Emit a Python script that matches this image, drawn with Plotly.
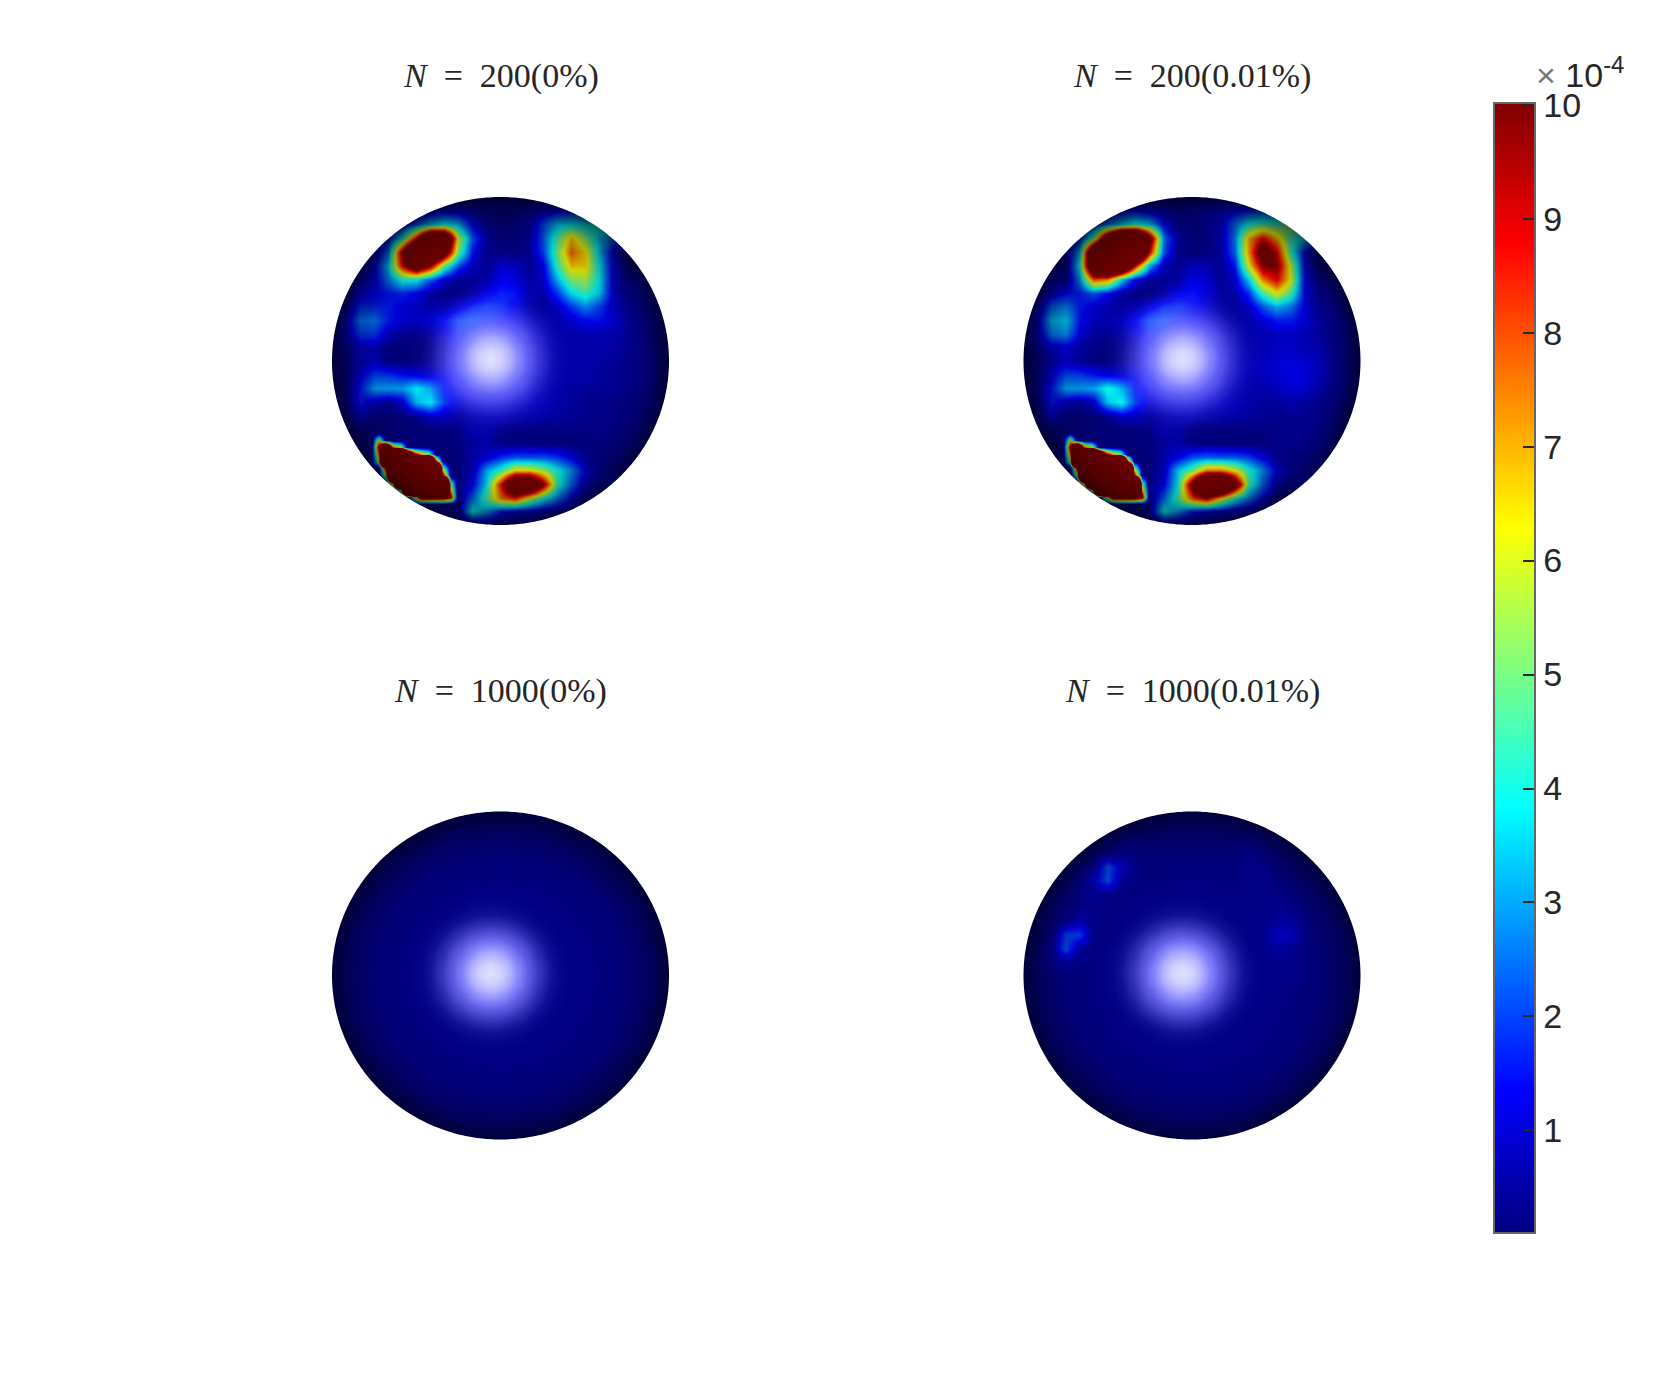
"""Four shaded spheres with a shared jet colorbar, drawn as masked heatmaps."""

import numpy as np
import plotly.graph_objects as go

FIG_W, FIG_H = 1661, 1384

titles = ["N = 200(0%)", "N = 200(0.01%)", "N = 1000(0%)", "N = 1000(0.01%)"]
tick_values = [1, 2, 3, 4, 5, 6, 7, 8, 9, 10]

# field values in units of 1e-4 on a regular grid over each sphere
grid_200_clean = [
    [.2] * 25,
    [.2, .2, .2, .2, .2, .2, .5, .9, 1.1, .9, .5, .2, .15, .2, .4, .9, 1.3, 1.6, 2.0, 1.8, 1.0, .3, .2, .2, .2],
    [.2, .2, .2, .3, .8, 1.2, 2.2, 3.4, 4, 3.2, 1.2, .4, .15, .2, .5, 2.0, 3.4, 3.8, 3.6, 4, 4.2, 1.0, .2, .2, .2],
    [.2, .2, .3, .5, 1.4, 4, 9, 16, 15, 6, 2.2, .6, .2, .2, .5, 2.2, 4.6, 6.8, 5.2, 3.4, 2.4, 1.4, .3, .2, .2],
    [.2, .2, .4, .7, 2.6, 10, 17, 17, 12, 5, 1.6, .4, .3, .3, .4, 2.0, 5, 7.8, 6.5, 3.4, 1.0, .3, .2, .2, .2],
    [.2, .2, .5, 1.0, 3.4, 9, 13, 10, 5, 2.2, .9, .4, 1.0, .9, .4, 1.2, 4.4, 6.8, 6.6, 3.8, 1.0, .2, .2, .3, .2],
    [.2, .3, .7, 1.1, 2.6, 4.2, 4, 2.4, 1.0, .4, .4, .6, 1.3, 1.2, .5, .9, 3.2, 5.2, 5.6, 3.8, 1.0, .4, .4, .3, .2],
    [.2, .3, 1.1, 1.3, 1.5, 1.7, 1.3, .5, .2, .2, .5, 1.2, 1.6, 1.5, .7, .6, 1.8, 3.6, 4.4, 3.4, 1.0, .5, .4, .3, .2],
    [.2, .5, 1.7, 1.7, 1.6, 1.2, .9, .6, .6, 1.0, 1.6, 1.9, 1.7, 1.2, .6, .4, .8, 1.9, 2.8, 2.0, 1.0, .6, .5, .3, .2],
    [.2, .9, 2.6, 2.6, 1.6, 1.1, .9, 1.0, 1.4, 2.2, 2.4, 1.9, 1.5, 1.1, .7, .6, .6, .9, 1.4, 1.5, 1.1, .7, .5, .3, .2],
    [.2, .8, 1.9, 1.9, .9, .4, .3, .5, 1.0, 1.7, 1.9, 1.7, 1.4, 1.1, .8, .7, .6, .6, .7, .8, .8, .6, .5, .3, .2],
    [.2, .5, .9, .8, .2, .15, .15, .2, .5, 1.2, 1.6, 1.5, 1.3, 1.1, .8, .6, .6, .6, .7, .7, .7, .6, .5, .3, .2],
    [.2, .3, .8, .9, .3, .15, .15, .3, .6, 1.1, 1.4, 1.4, 1.3, 1.1, .9, .7, .6, .6, .6, .6, .6, .5, .5, .3, .2],
    [.2, .3, 1.2, 2.0, 1.9, 1.5, 1.2, 1.1, 1.2, 1.4, 1.4, 1.3, 1.2, 1.0, .8, .7, .6, .6, .6, .6, .5, .5, .5, .3, .2],
    [.2, .4, 1.6, 3.0, 3.0, 3.0, 3.8, 3.0, 1.6, 1.2, 1.2, 1.1, 1.1, 1.0, .8, .7, .6, .5, .5, .5, .5, .5, .5, .3, .2],
    [.2, .4, 1.6, .9, .4, 1.0, 3.2, 3.8, 1.9, 1.0, .9, .9, .9, .8, .8, .7, .6, .5, .4, .4, .4, .4, .4, .3, .2],
    [.2, .3, .9, .2, .15, .15, .3, .9, .8, .5, .6, .7, .7, .6, .6, .6, .5, .4, .4, .4, .4, .4, .4, .3, .2],
    [.2, .2, .2, .15, .15, .15, .15, .15, .15, .3, .6, .6, .3, .2, .2, .2, .2, .3, .3, .4, .4, .4, .3, .2, .2],
    [.2, .2, .2, .2, .15, .15, .15, .15, .15, .2, .5, .6, .2, .15, .15, .15, .15, .2, .3, .4, .4, .4, .3, .2, .2],
    [.2, .2, .2, .2, .2, .2, .2, .2, .2, .2, .6, 1.0, 1.8, 2.2, 2.2, 2.2, 1.9, 1.2, .5, .4, .4, .3, .2, .2, .2],
    [.2, .2, .2, .2, .2, .2, .2, .2, .2, .2, .7, 3.0, 4.4, 6.5, 6.5, 5.5, 4.0, 2.8, 1.2, .5, .4, .3, .2, .2, .2],
    [.2, .2, .2, .2, .2, .2, .2, .2, .2, .5, 1.2, 3.6, 9, 15, 15, 10, 4.4, 2.4, .8, .5, 1.0, .3, .2, .2, .2],
    [.2, .2, .2, .2, .2, .2, .2, .2, .2, .5, 2.4, 4.6, 7.5, 8.5, 6, 4, 2.6, 1.2, .5, .4, .3, .2, .2, .2, .2],
    [.2, .2, .2, .2, .2, .2, .2, .2, .3, .5, 4, 3, 1.5, 1, 1, .8, .6, .4, .3, .2, .2, .2, .2, .2, .2],
    [.2] * 25,
]

grid_200_noisy = [
    [.2] * 25,
    [.2, .2, .2, .2, .2, .4, .9, 1.3, 1.5, 1.0, .6, .3, .4, .6, .9, 1.3, 1.7, 2.1, 2.4, 2.2, 1.2, .4, .2, .2, .2],
    [.2, .2, .2, .3, .8, 1.6, 2.6, 3.6, 4.2, 3.4, 1.4, .4, .3, .5, .9, 2.4, 4, 4.6, 4.4, 5.2, 5.4, 1.2, .2, .2, .2],
    [.2, .2, .3, .6, 1.6, 5, 13, 19, 19, 11, 2.6, .6, .2, .3, .7, 2.6, 7, 9, 7, 4.4, 3.6, 1.6, .3, .2, .2],
    [.2, .2, .4, .4, 3.4, 15, 21, 21, 19, 9, 2.2, .4, .2, .3, .6, 2.4, 7.2, 11.5, 9.2, 4.4, 1.2, .3, .15, .2, .2],
    [.2, .2, .5, .3, 4, 15, 19, 17, 9, 3.2, .8, .4, .8, .7, .4, 1.6, 6.2, 10, 10, 5.8, 1.2, .2, .15, .3, .2],
    [.2, .3, .6, .3, 2.8, 8, 7.5, 3.6, 1.2, .4, .4, .5, 1.2, 1.0, .4, .9, 3.6, 7.5, 9, 6.2, 1.3, .4, .4, .3, .2],
    [.2, .3, 1.0, 1.4, 1.6, 2.2, 1.4, .5, .2, .2, .5, 1.2, 1.5, 1.1, .5, .5, 1.8, 4.4, 6.2, 4.6, 1.3, .6, .5, .3, .2],
    [.2, .7, 2.3, 2.7, 1.6, 1.1, .7, .5, .6, 1.1, 1.7, 1.8, 1.4, 1.0, .5, .4, .9, 2.2, 3.2, 2.6, 1.2, .7, .6, .3, .2],
    [.2, 1.0, 3.3, 3.5, 1.5, .9, .7, .8, 1.4, 2.2, 2.4, 1.8, 1.3, .9, .6, .5, .6, 1.0, 1.6, 1.6, 1.2, .8, .6, .4, .2],
    [.2, .8, 2.6, 2.8, 1.2, .5, .4, .5, 1.0, 1.7, 1.9, 1.6, 1.2, .9, .7, .6, .6, .7, .9, 1.0, .9, .7, .6, .4, .2],
    [.2, .5, 1.0, 1.1, .6, .3, .2, .3, .5, 1.2, 1.6, 1.5, 1.2, 1.0, .7, .6, .6, .7, .9, 1.0, .9, .8, .6, .4, .2],
    [.2, .3, .7, 1.0, .5, .2, .2, .3, .6, 1.1, 1.4, 1.4, 1.2, 1.0, .8, .7, .7, .8, 1.0, 1.2, 1.2, 1.0, .6, .4, .2],
    [.2, .3, 1.2, 2.1, 2.0, 1.6, 1.2, 1.1, 1.2, 1.4, 1.4, 1.3, 1.2, 1.0, .8, .7, .7, .8, 1.0, 1.3, 1.3, 1.0, .7, .4, .2],
    [.2, .4, 1.6, 3.1, 3.0, 3.1, 4.1, 3.2, 1.6, 1.2, 1.2, 1.1, 1.1, 1.0, .8, .7, .6, .6, .8, 1.2, 1.1, .8, .6, .4, .2],
    [.2, .4, 1.6, .9, .4, 1.0, 3.4, 4.0, 1.9, 1.0, .9, .9, .9, .8, .8, .7, .6, .5, .5, .7, .7, .6, .5, .3, .2],
    [.2, .3, .9, .2, .15, .15, .3, .9, .8, .5, .6, .7, .7, .6, .6, .6, .5, .4, .4, .5, .6, .6, .5, .3, .2],
    [.2, .2, .2, .15, .15, .15, .15, .15, .15, .3, .6, .5, .2, .15, .15, .15, .2, .3, .4, .5, .6, .6, .5, .2, .2],
    [.2, .2, .2, .2, .15, .15, .15, .15, .15, .2, .5, .6, .2, .15, .15, .15, .15, .2, .4, .5, .6, .6, .5, .2, .2],
    [.2, .2, .2, .2, .2, .2, .2, .2, .2, .2, .7, 1.2, 2.2, 2.4, 2.3, 2.3, 2.0, 1.2, .5, .5, .6, .6, .5, .2, .2],
    [.2, .2, .2, .2, .2, .2, .2, .2, .2, .2, .8, 3.4, 5, 7.5, 7.5, 6.2, 4.2, 2.8, 1.2, .6, .6, .7, 1.0, .2, .2],
    [.2, .2, .2, .2, .2, .2, .2, .2, .2, .5, 1.2, 3.8, 11, 19, 19, 12, 4.6, 2.4, .8, .6, 1.2, 1.0, .2, .2, .2],
    [.2, .2, .2, .2, .2, .2, .2, .2, .2, .5, 2.4, 4.6, 8, 9.5, 6.5, 4, 2.6, 1.2, .5, .4, .3, .2, .2, .2, .2],
    [.2, .2, .2, .2, .2, .2, .2, .2, .3, .5, 4, 3, 1.5, 1, 1, .8, .6, .4, .3, .2, .2, .2, .2, .2, .2],
    [.2] * 25,
]

grid_1000_clean = [
    [.2, .2, .2, .2, .2],
    [.2, .22, .25, .22, .2],
    [.2, .25, .25, .25, .2],
    [.2, .22, .25, .22, .2],
    [.2, .2, .2, .2, .2],
]

grid_1000_noisy = [
    [.25] * 25,
    [.25] * 25,
    [.25, .25, .25, .25, .25, .25, .3, .4, .4, .3, .25, .25, .25, .25, .25, .3, .4, .35, .3, .25, .25, .25, .25, .25, .25],
    [.25, .25, .25, .25, .25, .3, .4, .6, .4, .3, .25, .25, .25, .25, .25, .3, .5, .45, .3, .25, .25, .25, .25, .25, .25],
    [.25, .25, .25, .25, .35, .6, 2.2, 1.1, .4, .25, .25, .25, .25, .25, .25, .3, .45, .5, .3, .25, .25, .25, .25, .25, .25],
    [.25, .25, .25, .3, .5, 1.1, 2.2, .5, .3, .25, .25, .25, .25, .25, .25, .25, .35, .45, .35, .25, .25, .25, .25, .25, .25],
    [.25, .25, .25, .3, .55, .6, .4, .3, .25, .25, .25, .25, .25, .25, .25, .25, .3, .35, .4, .35, .25, .25, .25, .25, .25],
    [.25, .25, .3, .35, .5, .4, .3, .25, .25, .25, .25, .25, .25, .25, .25, .25, .3, .3, .45, .45, .3, .25, .25, .25, .25],
    [.25, .25, .3, .5, .8, .4, .25, .25, .25, .25, .25, .25, .25, .25, .25, .25, .25, .3, .55, .6, .35, .25, .25, .25, .25],
    [.25, .25, .35, 2.0, 2.0, .3, .25, .25, .25, .25, .25, .25, .25, .25, .25, .25, .25, .3, .8, .9, .4, .25, .25, .25, .25],
    [.25, .25, .5, 2.2, .5, .25, .25, .25, .25, .25, .25, .25, .25, .25, .25, .25, .25, .3, .5, .5, .3, .25, .25, .25, .25],
    [.25, .25, .5, .6, .3, .25, .25, .25, .25, .25, .25, .25, .25, .25, .25, .25, .25, .25, .3, .35, .3, .25, .25, .25, .25],
    [.25, .25, .3, .3, .25, .25, .25, .25, .25, .25, .25, .25, .25, .25, .25, .25, .25, .25, .3, .35, .35, .25, .25, .25, .25],
    [.25] * 25,
    [.25] * 25,
    [.25] * 25,
    [.25] * 25,
    [.25] * 25,
    [.25] * 25,
    [.25] * 25,
    [.25] * 25,
    [.25] * 25,
    [.25] * 25,
    [.25] * 25,
    [.25] * 25,
]

# the saturated patch low on the 200-point spheres has a sharp edge, so it gets a finer grid
patch_x = [-.81, -.767, -.725, -.682, -.64, -.597, -.554, -.512, -.469, -.427, -.384, -.342, -.30, -.257]
patch_y = [-.436, -.48, -.524, -.567, -.61, -.654, -.697, -.741, -.785, -.829, -.872]
patch_200 = [
    [.2] * 14,
    [.2, .2, 6, .2, .2, .2, .2, .2, .2, .2, .2, .2, .2, .2],
    [.2, .2, 10, 20, 8, 6, .2, .2, .2, .2, .2, .2, .2, .2],
    [.2, .2, 8, 40, 40, 40, 20, 10, 7, 5.5, .2, .2, .2, .2],
    [.2, .2, 6, 40, 40, 40, 40, 40, 40, 40, 10, .2, .2, .2],
    [.2, .2, .2, 10, 40, 40, 40, 40, 40, 40, 40, 5.5, .2, .2],
    [.2, .2, .2, 6, 40, 40, 40, 40, 40, 40, 40, 10, .2, .2],
    [.2, .2, .2, .2, 8, 40, 40, 40, 40, 40, 40, 40, 5, .2],
    [.2, .2, .2, .2, .2, 5.5, 40, 40, 40, 40, 40, 40, 7, .2],
    [.2, .2, .2, .2, .2, .2, .2, 5.5, 12, 12, 12, 12, 10, .2],
    [.2] * 14,
]

# lighting: strength of the specular spot and opacity of the rim shading against radius
spot_radius = [0, .06, .12, .18, .24, .30, .36, .42, .48]
spot_level = [1, .98, .93, .84, .66, .38, .14, .03, 0]
rim_radius = [0, .5, .75, .9, 1]
rim_alpha = [0, .06, .18, .36, .6]

jet = [
    [0, "#00007f"],
    [.125, "#0000ff"],
    [.375, "#00ffff"],
    [.625, "#ffff00"],
    [.875, "#ff0000"],
    [1, "#7f0000"],
]
spot_colors = [
    [0, "rgba(130,130,255,0)"],
    [.4, "rgba(125,125,255,.4)"],
    [.7, "rgba(120,120,255,.75)"],
    [.85, "rgba(135,135,255,.95)"],
    [.93, "rgba(175,175,255,1)"],
    [1, "rgba(225,225,255,1)"],
]

# sphere boxes in page pixels: centre x, centre y
centres = [(500.5, 361), (1192, 361), (500.5, 975.5), (1192, 975.5)]
RX, RY = 168.5, 164
PAD = 1.3
grids = [grid_200_clean, grid_200_noisy, grid_1000_clean, grid_1000_noisy]


def hole_path():
    """Square around a circular hole, so the rectangular heatmaps read as discs."""
    t = np.linspace(0, 2 * np.pi, 361)[:-1]
    box = "M-1.6,-1.6 L1.6,-1.6 L1.6,1.6 L-1.6,1.6 Z "
    circle = "M" + " L".join(f"{np.cos(a):.4f},{np.sin(a):.4f}" for a in t) + " Z"
    return box + circle


fig = go.Figure()
xx, yy = np.meshgrid(np.linspace(-1, 1, 161), np.linspace(-1, 1, 161))
rr = np.hypot(xx, yy)
spot = np.interp(np.hypot(xx + 0.06, yy - 0.015), spot_radius, spot_level)
rim = np.interp(rr, rim_radius, rim_alpha)

for k, (grid, (cx, cy)) in enumerate(zip(grids, centres)):
    n = "" if k == 0 else str(k + 1)
    axes = dict(xaxis=f"x{n}", yaxis=f"y{n}")
    z = np.array(grid, dtype=float)[::-1]
    fig.add_trace(go.Heatmap(
        z=z, x=np.linspace(-1, 1, z.shape[1]), y=np.linspace(-1, 1, z.shape[0]),
        coloraxis="coloraxis", zsmooth="best", hoverinfo="skip", **axes,
    ))
    if k < 2:
        fig.add_trace(go.Heatmap(
            z=patch_200, x=patch_x, y=patch_y,
            coloraxis="coloraxis", zsmooth="best", hoverinfo="skip", **axes,
        ))
    fig.add_trace(go.Heatmap(
        z=rim, x=xx[0], y=yy[:, 0], zmin=0, zmax=1, zsmooth="best", showscale=False,
        colorscale=[[0, "rgba(0,0,0,0)"], [1, "rgba(0,0,0,1)"]], hoverinfo="skip", **axes,
    ))
    fig.add_trace(go.Heatmap(
        z=spot, x=xx[0], y=yy[:, 0], zmin=0, zmax=1, zsmooth="best", showscale=False,
        colorscale=spot_colors, hoverinfo="skip", **axes,
    ))
    hidden = dict(visible=False, range=[-PAD, PAD], fixedrange=True)
    fig.update_layout({
        f"xaxis{n}": dict(hidden, domain=[(cx - RX * PAD) / FIG_W, (cx + RX * PAD) / FIG_W]),
        f"yaxis{n}": dict(hidden, domain=[1 - (cy + RY * PAD) / FIG_H, 1 - (cy - RY * PAD) / FIG_H]),
    })
    fig.add_shape(type="path", path=hole_path(), xref=f"x{n}", yref=f"y{n}", layer="above",
                  fillcolor="white", line_width=0, fillrule="evenodd")
    label, rest = titles[k].split(" = ")
    fig.add_annotation(
        text=f"<i>{label}</i>\u00a0\u00a0=\u00a0\u00a0{rest}", x=cx / FIG_W, y=1 - (cy - 285) / FIG_H,
        xref="paper", yref="paper", showarrow=False, xanchor="center", yanchor="middle",
        font=dict(family="Liberation Serif", size=34, color="#262626"),
    )

fig.add_annotation(
    text='<span style="color:#777777">×</span> 10<sup>-4</sup>', x=1534 / FIG_W, y=1 - 72 / FIG_H,
    xref="paper", yref="paper", showarrow=False, xanchor="left", yanchor="middle",
    font=dict(family="Liberation Sans", size=34, color="#262626"),
)

fig.update_layout(
    width=FIG_W,
    height=FIG_H,
    margin=dict(l=0, r=0, t=0, b=0),
    paper_bgcolor="white",
    plot_bgcolor="white",
    coloraxis=dict(
        colorscale=jet,
        cmin=.1,
        cmax=10.015,
        colorbar=dict(
            x=1494 / FIG_W, xanchor="left", xpad=0,
            y=1 - 103 / FIG_H, yanchor="top", ypad=0,
            thickness=41, thicknessmode="pixels",
            len=1130, lenmode="pixels",
            tickvals=tick_values, ticks="inside", ticklen=13, tickwidth=1.5, tickcolor="#262626",
            tickprefix='<span style="font-size:14px">\u00a0</span>',
            tickfont=dict(family="Liberation Sans", size=34, color="#262626"),
            outlinecolor="#666666", outlinewidth=2,
        ),
    ),
)

fig.write_html("out.html", config=dict(displayModeBar=False),
               post_script="document.body.style.margin = '0';")
